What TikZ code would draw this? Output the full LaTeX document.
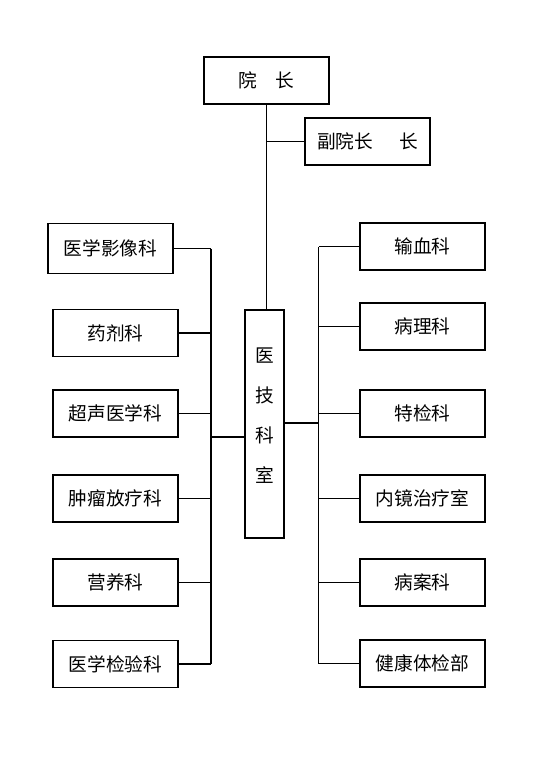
\documentclass[tikz,border=0pt]{standalone}
\usepackage{fontspec}
\newfontfamily\cjk{Noto Sans CJK SC}
\usetikzlibrary{positioning, calc}

\tikzset{
  unit/.style={draw, line width=0.8pt, minimum width=93.75pt, minimum height=35.25pt,
    inner sep=0pt, font=\cjk\fontsize{14}{16}\selectfont},
  link/.style={line width=0.8pt}
}

\begin{document}
\begin{tikzpicture}[x=0.75pt, y=-0.75pt]
  \useasboundingbox (0,0) rectangle (560,764);
  % top
  \node[unit] (dean) at (266.5,80.5) {院　长};
  \node[unit] (vice) at (367.5,141.5) {副院长\hspace{1.4em}长};
  % centre
  \node[unit, minimum width=29.25pt, minimum height=171pt,
    label={[font=\cjk\fontsize{14}{30}\selectfont, align=center, yshift=6.5pt]center:{医\\技\\科\\室}}]
    (tech) at (264.5,424) {};
  % left column
  \node[unit, minimum height=37.5pt] (imaging) at (110.5,248.5) {医学影像科};
  \node[unit] (pharmacy) at (115.5,333) {药剂科};
  \node[unit] (ultrasound) at (115.5,413.5) {超声医学科};
  \node[unit] (oncology) at (115.5,498.5) {肿瘤放疗科};
  \node[unit] (nutrition) at (115.5,582.5) {营养科};
  \node[unit] (lab) at (115.5,664) {医学检验科};
  % right column
  \node[unit] (blood) at (422.5,246.5) {输血科};
  \node[unit] (pathology) at (422.5,326.5) {病理科};
  \node[unit] (special) at (422.5,413.5) {特检科};
  \node[unit] (endoscopy) at (422.5,498.5) {内镜治疗室};
  \node[unit] (records) at (422.5,582.5) {病案科};
  \node[unit] (checkup) at (422.5,663.5) {健康体检部};

  % buses
  \coordinate (lbus) at (211,437);
  \coordinate (rbus) at (318.5,423);

  % connectors
  \draw[link] (dean.south) -- (dean.south |- tech.north);
  \draw[link] (dean.south |- vice.west) -- (vice.west);
  \draw[link] (imaging.east -| lbus) -- (lab.east -| lbus);
  \draw[link] (blood.west -| rbus) -- (checkup.west -| rbus);
  \foreach \n in {imaging, pharmacy, ultrasound, oncology, nutrition, lab}
    \draw[link] (\n.east) -- (\n.east -| lbus);
  \foreach \n in {blood, pathology, special, endoscopy, records, checkup}
    \draw[link] (\n.west) -- (\n.west -| rbus);
  \draw[link] (lbus) -- (lbus -| tech.west);
  \draw[link] (tech.east |- rbus) -- (rbus);
\end{tikzpicture}
\end{document}
